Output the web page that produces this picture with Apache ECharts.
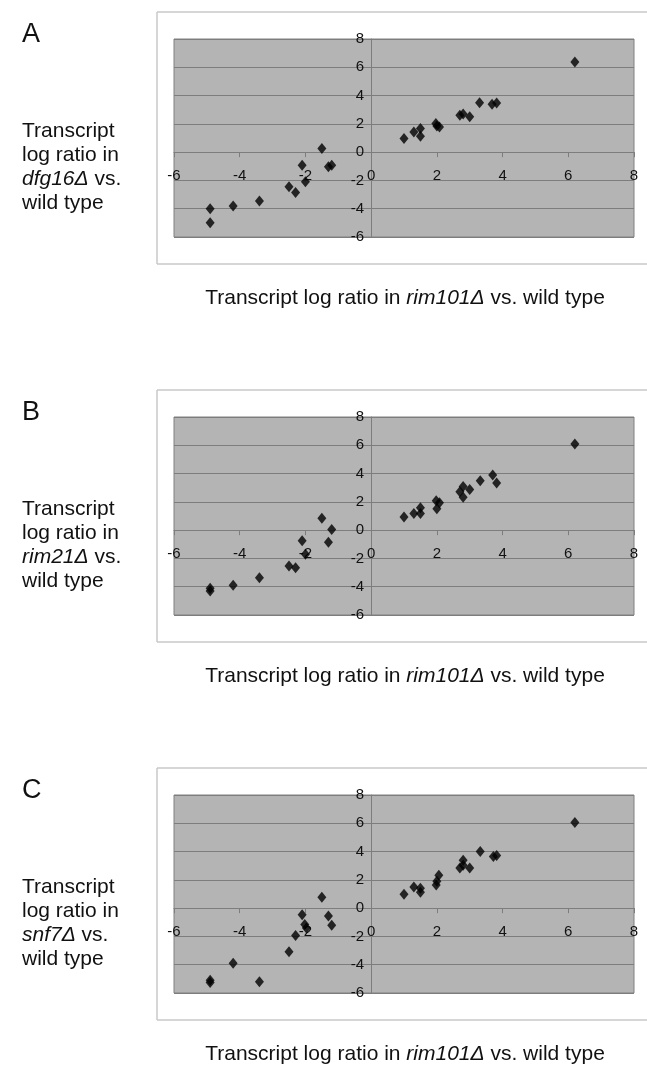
<!DOCTYPE html>
<html>
<head>
<meta charset="utf-8">
<script src="https://cdn.jsdelivr.net/npm/echarts@6/dist/echarts.min.js"></script>
<style>
html,body{margin:0;padding:0;background:#fff;}
#c{width:647px;height:1068px;}
</style>
</head>
<body>
<div id="c"></div>
<script>
// Panel letters and strain names
const panelLetters = ['A', 'B', 'C'];
const strainNames = ['dfg16Δ', 'rim21Δ', 'snf7Δ'];
const xAxisStrain = 'rim101Δ';
const tickValues = [-6, -4, -2, 0, 2, 4, 6, 8];

// Panel A: rim101Δ (x) vs dfg16Δ (y)
const xA = [-4.9, -4.9, -4.2, -3.4, -2.5, -2.3, -2.1, -2.0, -1.5, -1.3, -1.2,
            1.0, 1.3, 1.5, 1.5, 1.97, 2.0, 2.08, 2.7, 2.8, 3.0, 3.3, 3.68, 3.82, 6.2];
const yA = [-4.0, -5.0, -3.8, -3.45, -2.45, -2.85, -0.92, -2.1, 0.26, -1.04, -0.92,
            0.97, 1.42, 1.67, 1.13, 2.03, 1.84, 1.78, 2.6, 2.7, 2.5, 3.5, 3.38, 3.48, 6.37];

// Panel B: rim101Δ (x) vs rim21Δ (y)
const xB = [-4.9, -4.9, -4.2, -3.4, -2.5, -2.3, -2.1, -2.0, -1.5, -1.3, -1.2,
            1.0, 1.3, 1.5, 1.5, 1.98, 2.0, 2.08, 2.7, 2.8, 2.8, 3.0, 3.32, 3.7, 3.82, 6.2];
const yB = [-4.1, -4.3, -3.9, -3.36, -2.54, -2.66, -0.75, -1.7, 0.84, -0.86, 0.05,
            0.93, 1.17, 1.58, 1.17, 2.08, 1.52, 1.94, 2.71, 3.08, 2.33, 2.87, 3.5, 3.9, 3.34, 6.09];

// Panel C: rim101Δ (x) vs snf7Δ (y)
const xC = [-4.9, -4.9, -4.2, -3.4, -2.5, -2.3, -2.1, -2.02, -1.97, -1.5, -1.3, -1.2,
            1.0, 1.3, 1.5, 1.5, 1.98, 2.0, 2.06, 2.7, 2.8, 2.8, 3.0, 3.32, 3.72, 3.82, 6.2];
const yC = [-5.1, -5.25, -3.9, -5.2, -3.08, -1.93, -0.47, -1.15, -1.4, 0.77, -0.56, -1.21,
            0.98, 1.49, 1.4, 1.12, 1.63, 1.91, 2.33, 2.84, 3.38, 3.03, 2.84, 4.0, 3.66, 3.73, 6.06];

const xsAll = [xA, xB, xC];
const ysAll = [yA, yB, yC];

const FONT = '"Liberation Sans", Arial, sans-serif';
const PANEL_STEP = 378;
const gridLine = '#7d7d7d';
const GRID_W = 460, GRID_H = 198;
const MIN = tickValues[0], MAX = tickValues[tickValues.length - 1];
// shift axes so that they cross at zero (as in the original spreadsheet chart)
const xAxisShift = -GRID_H * (0 - MIN) / (MAX - MIN);
const yAxisShift = -GRID_W * (0 - MIN) / (MAX - MIN);

const grids = [], xAxes = [], yAxes = [], series = [], graphics = [];

for (let i = 0; i < 3; i++) {
  const off = i * PANEL_STEP;
  grids.push({
    left: 174, width: GRID_W, top: 39 + off, height: GRID_H,
    show: true, backgroundColor: '#b4b4b4', borderColor: '#808080', borderWidth: 1
  });
  xAxes.push({
    gridIndex: i, type: 'value', min: MIN, max: MAX, interval: 2,
    position: 'bottom', offset: xAxisShift,
    axisLine: { onZero: false, lineStyle: { color: gridLine, width: 1 } },
    axisTick: { show: true, length: 5, lineStyle: { color: gridLine } },
    axisLabel: { fontSize: 15, color: '#111', margin: 16, fontFamily: FONT },
    splitLine: { show: false }
  });
  yAxes.push({
    gridIndex: i, type: 'value', min: MIN, max: MAX, interval: 2,
    position: 'left', offset: yAxisShift,
    axisLine: { onZero: false, lineStyle: { color: gridLine, width: 1 } },
    axisTick: { show: true, length: 4, lineStyle: { color: gridLine } },
    axisLabel: { fontSize: 15, color: '#111', margin: 7, fontFamily: FONT },
    splitLine: { show: true, lineStyle: { color: gridLine, width: 1 } }
  });
  series.push({
    type: 'scatter', xAxisIndex: i, yAxisIndex: i,
    symbol: 'diamond', symbolSize: [9, 11],
    itemStyle: { color: '#000' },
    data: xsAll[i].map((x, k) => [x, ysAll[i][k]]),
    z: 5
  });

  // outer chart box (left, top, bottom edges)
  const boxTop = 12 + off, boxBottom = 264 + off;
  graphics.push({ type: 'line', shape: { x1: 157, y1: boxTop, x2: 647, y2: boxTop }, style: { stroke: '#c8c8c8', lineWidth: 1.5 } });
  graphics.push({ type: 'line', shape: { x1: 157, y1: boxTop, x2: 157, y2: boxBottom }, style: { stroke: '#c8c8c8', lineWidth: 1.5 } });
  graphics.push({ type: 'line', shape: { x1: 157, y1: boxBottom, x2: 647, y2: boxBottom }, style: { stroke: '#c8c8c8', lineWidth: 1.5 } });

  // panel letter
  graphics.push({
    type: 'text', left: 22, top: 21 + off,
    style: { text: panelLetters[i], font: '27px ' + FONT, fill: '#111' }
  });

  // y axis title (left side)
  graphics.push({
    type: 'text', left: 22, top: 121 + off,
    style: {
      text: '{n|Transcript}\n{n|log ratio in}\n{i|' + strainNames[i] + '}{n| vs.}\n{n|wild type}',
      fill: '#111',
      rich: {
        n: { fontSize: 21, fontFamily: FONT, lineHeight: 24, fill: '#111' },
        i: { fontSize: 21, fontFamily: FONT, fontStyle: 'italic', lineHeight: 24, fill: '#111' }
      }
    }
  });

  // x axis caption
  graphics.push({
    type: 'text', x: 405, y: 298 + off,
    style: {
      text: '{n|Transcript log ratio in }{i|' + xAxisStrain + '}{n| vs. wild type}',
      align: 'center', verticalAlign: 'middle',
      textAlign: 'center', textVerticalAlign: 'middle',
      fill: '#111',
      rich: {
        n: { fontSize: 21, fontFamily: FONT, fill: '#111' },
        i: { fontSize: 21, fontFamily: FONT, fontStyle: 'italic', fill: '#111' }
      }
    }
  });
}

const chart = echarts.init(document.getElementById('c'), null, { renderer: 'canvas' });
chart.setOption({
  backgroundColor: '#ffffff',
  animation: false,
  grid: grids,
  xAxis: xAxes,
  yAxis: yAxes,
  series: series,
  graphic: graphics
});
</script>
</body>
</html>
